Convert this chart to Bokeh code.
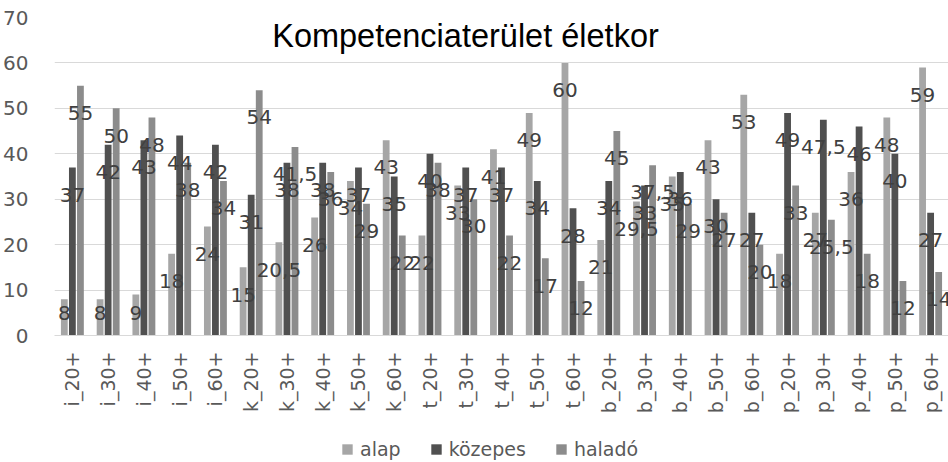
import math
from bokeh.plotting import figure
from bokeh.layouts import column
from bokeh.models import FactorRange, Legend, LegendItem, Label, FixedTicker, ColumnDataSource
from bokeh.transform import dodge
from bokeh.core.properties import value
from bokeh.embed import file_html
from bokeh.resources import INLINE

categories = ["i_20+", "i_30+", "i_40+", "i_50+", "i_60+",
              "k_20+", "k_30+", "k_40+", "k_50+", "k_60+",
              "t_20+", "t_30+", "t_40+", "t_50+", "t_60+",
              "b_20+", "b_30+", "b_40+", "b_50+", "b_60+",
              "p_20+", "p_30+", "p_40+", "p_50+", "p_60+"]
alap = [8, 8, 9, 18, 24, 15, 20.5, 26, 34, 43, 22, 33, 41, 49, 60,
        21, 29.5, 35, 43, 53, 18, 27, 36, 48, 59]
kozepes = [37, 42, 43, 44, 42, 31, 38, 38, 37, 35, 40, 37, 37, 34, 28,
           34, 33, 36, 30, 27, 49, 47.5, 46, 40, 27]
halado = [55, 50, 48, 38, 34, 54, 41.5, 36, 29, 22, 38, 30, 22, 17, 12,
          45, 37.5, 29, 27, 20, 33, 25.5, 18, 12, 14]
y_ticks = [0, 10, 20, 30, 40, 50, 60, 70]
series_names = ["alap", "közepes", "haladó"]
title_text = "Kompetenciaterület életkor"

colors = ["#a6a6a6", "#505050", "#8c8c8c"]
FONT = "DejaVu Sans"


def fmt(v):
    return str(int(v)) if float(v).is_integer() else str(v).replace(".", ",")


p = figure(x_range=FactorRange(factors=categories), y_range=(0, 70),
           width=948, height=430, output_backend="svg", toolbar_location=None,
           min_border_left=52, min_border_right=0, min_border_top=17,
           min_border_bottom=95)
p.outline_line_color = None
p.background_fill_color = "white"
p.border_fill_color = "white"

offsets = [-0.225, 0.0, 0.225]
for name, vals, col, off in zip(series_names, [alap, kozepes, halado], colors, offsets):
    src = ColumnDataSource(dict(cat=categories, v=vals))
    p.vbar(x=dodge("cat", off, range=p.x_range), top="v", width=0.19,
           source=src, fill_color=col, line_color=None)
for name, vals, col, off in zip(series_names, [alap, kozepes, halado], colors, offsets):
    src = ColumnDataSource(dict(
        cat=categories,
        ly=[max(v - 6, 5) for v in vals],
        txt=[fmt(v) for v in vals]))
    p.text(x=dodge("cat", off, range=p.x_range), y="ly", text="txt", source=src,
           text_font=value(FONT), text_font_size="20px", text_color="#404040",
           text_align="center", text_baseline="middle")

p.add_layout(Label(x=411, y=300, x_units="screen", y_units="screen",
                   text=title_text, text_font="Liberation Sans",
                   text_font_size="32.5px", text_color="#000000",
                   text_align="center", text_baseline="middle"))

# axes
p.yaxis.ticker = FixedTicker(ticks=y_ticks)
p.yaxis.axis_line_color = None
p.yaxis.major_tick_line_color = None
p.yaxis.minor_tick_line_color = None
p.yaxis.major_label_text_font = FONT
p.yaxis.major_label_text_font_size = "20px"
p.yaxis.major_label_text_color = "#595959"
p.yaxis.major_label_standoff = 20

p.xaxis.axis_line_color = "#d9d9d9"
p.xaxis.major_tick_line_color = None
p.xaxis.minor_tick_line_color = None
p.xaxis.major_label_orientation = math.pi / 2
p.xaxis.major_label_text_font = FONT
p.xaxis.major_label_text_font_size = "19px"
p.xaxis.major_label_text_color = "#595959"
p.xaxis.major_label_standoff = 10

p.xgrid.grid_line_color = None
p.ygrid.grid_line_color = "#d9d9d9"
p.ygrid.grid_line_width = 1

# legend strip below the chart
p2 = figure(width=948, height=32, output_backend="svg", toolbar_location=None,
            x_range=(0, 1), y_range=(0, 1), min_border=0,
            x_axis_location=None, y_axis_location=None)
p2.grid.grid_line_color = None
p2.outline_line_color = None
p2.background_fill_color = "white"
p2.border_fill_color = "white"
leg_renderers = []
for col in colors:
    # swatch renderers: their single marker lies outside the visible range
    leg_renderers.append(p2.scatter(x=[5], y=[5], marker="square", size=11,
                                    fill_color=col, line_color=None))
legend = Legend(items=[LegendItem(label=n, renderers=[r]) for n, r in zip(series_names, leg_renderers)],
                orientation="horizontal", location=(280, 0),
                glyph_width=26, glyph_height=26, label_standoff=0, spacing=22,
                label_text_font=FONT, label_text_font_size="19px",
                label_text_color="#595959", border_line_color=None,
                background_fill_alpha=0, padding=0, margin=0)
p2.add_layout(legend, "center")

open("out.html", "w").write(file_html(column(p, p2, spacing=0), INLINE))
